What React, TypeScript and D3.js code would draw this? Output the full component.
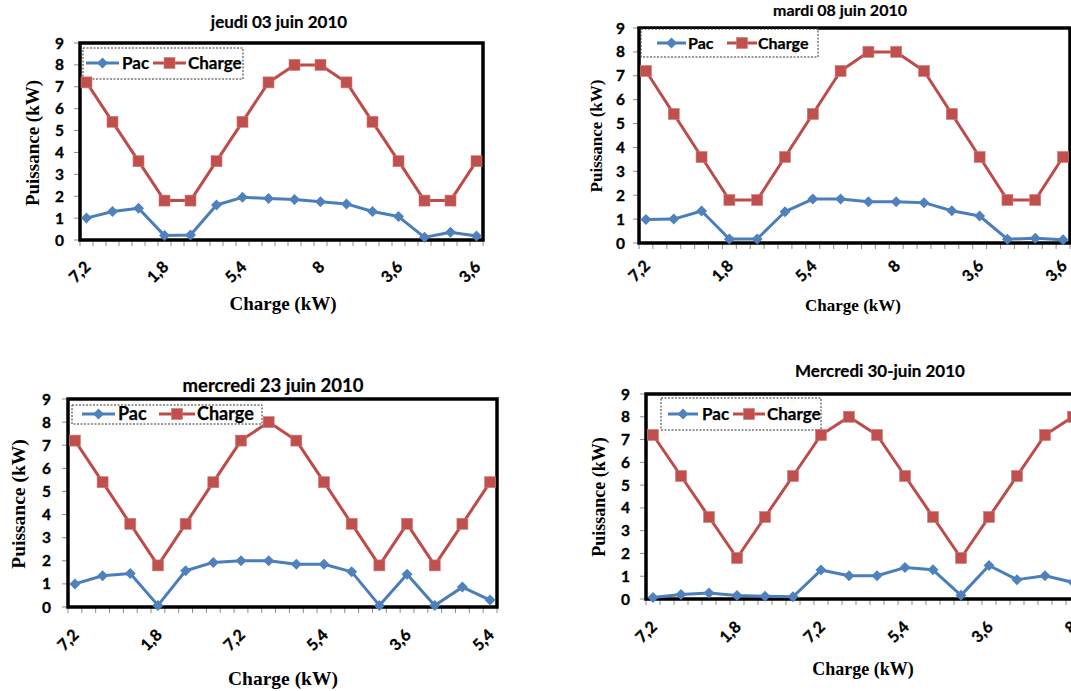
import React from "react";
import * as d3 from "d3";

// ---------- DATA ----------
const Y_TICKS = [0, 1, 2, 3, 4, 5, 6, 7, 8, 9];

const P1_TITLE = "jeudi 03 juin 2010";
const P1_CHARGE = [7.2, 5.4, 3.6, 1.8, 1.8, 3.6, 5.4, 7.2, 8, 8, 7.2, 5.4, 3.6, 1.8, 1.8, 3.6];
const P1_PAC = [1.0, 1.3, 1.45, 0.2, 0.23, 1.6, 1.95, 1.9, 1.85, 1.75, 1.65, 1.3, 1.07, 0.12, 0.35, 0.18];

const P2_TITLE = "mardi 08 juin 2010";
const P2_CHARGE = [7.2, 5.4, 3.6, 1.8, 1.8, 3.6, 5.4, 7.2, 8, 8, 7.2, 5.4, 3.6, 1.8, 1.8, 3.6];
const P2_PAC = [0.98, 1.0, 1.34, 0.17, 0.17, 1.31, 1.84, 1.84, 1.73, 1.73, 1.69, 1.35, 1.13, 0.16, 0.2, 0.14];

const P3_TITLE = "mercredi 23 juin 2010";
const P3_CHARGE = [7.2, 5.4, 3.6, 1.8, 3.6, 5.4, 7.2, 8, 7.2, 5.4, 3.6, 1.8, 3.6, 1.8, 3.6, 5.4];
const P3_PAC = [1.0, 1.35, 1.45, 0.07, 1.57, 1.93, 2.0, 2.0, 1.85, 1.85, 1.52, 0.07, 1.42, 0.07, 0.86, 0.3];

const P4_TITLE = "Mercredi 30-juin 2010";
const P4_CHARGE = [7.2, 5.4, 3.6, 1.8, 3.6, 5.4, 7.2, 8, 7.2, 5.4, 3.6, 1.8, 3.6, 5.4, 7.2, 8];
const P4_PAC = [0.07, 0.2, 0.26, 0.15, 0.12, 0.1, 1.27, 1.02, 1.02, 1.38, 1.28, 0.16, 1.47, 0.85, 1.02, 0.73];

const SERIES_NAMES = ["Pac", "Charge"];
const X_TITLE = "Charge (kW)";
const Y_TITLE = "Puissance (kW)";

// ---------- STYLE ----------
const BLUE = "#4A7EBB";
const BLUE_M = "#4F81BD";
const RED = "#BE4B48";
const RED_M = "#C0504D";
const SANS = "Lato, 'Open Sans', sans-serif";
const SERIF = "'Liberation Serif', 'Times New Roman', serif";

type Layout = {
  L: number; T: number; R: number; B: number;
  titleX: number; titleY: number; titleFs: number;
  yTitleX: number; yTitleY: number; xTitleX: number; xTitleY: number; axisTitleFs: number;
  tickLabelRight: number; xLabDy: number;
  leg: { x0: number; y0: number; x1: number; y1: number; cy: number; bl: number; br: number; pac: number; rl: number; rr: number; ch: number; fs: number };
};

const LAYOUTS: Layout[] = [
  {
    L: 80, T: 43, R: 483, B: 240, titleX: 279, titleY: 28, titleFs: 17,
    yTitleX: 32, yTitleY: 143, xTitleX: 283, xTitleY: 310, axisTitleFs: 19,
    tickLabelRight: 64, xLabDy: 28,
    leg: { x0: 83, y0: 48, x1: 243, y1: 79, cy: 63, bl: 86, br: 119, pac: 122, rl: 153, rr: 186, ch: 188, fs: 17 },
  },
  {
    L: 639, T: 28, R: 1070, B: 243, titleX: 840, titleY: 16, titleFs: 16,
    yTitleX: 596, yTitleY: 136, xTitleX: 853, xTitleY: 311, axisTitleFs: 17,
    tickLabelRight: 625, xLabDy: 24,
    leg: { x0: 641, y0: 29, x1: 818, y1: 57, cy: 43, bl: 657, br: 686, pac: 688, rl: 727, rr: 757, ch: 758, fs: 16 },
  },
  {
    L: 68, T: 399, R: 497, B: 607, titleX: 273, titleY: 392, titleFs: 18.5,
    yTitleX: 18, yTitleY: 504, xTitleX: 283, xTitleY: 685, axisTitleFs: 19.5,
    tickLabelRight: 51, xLabDy: 29,
    leg: { x0: 72, y0: 405, x1: 262, y1: 424, cy: 414, bl: 82, br: 115, pac: 118, rl: 159, rr: 195, ch: 197, fs: 18 },
  },
  {
    L: 646, T: 394, R: 1080, B: 599, titleX: 880, titleY: 377, titleFs: 17,
    yTitleX: 599, yTitleY: 497, xTitleX: 863, xTitleY: 675, axisTitleFs: 18,
    tickLabelRight: 630, xLabDy: 29,
    leg: { x0: 661, y0: 398, x1: 821, y1: 430, cy: 414, bl: 668, br: 698, pac: 702, rl: 733, rr: 765, ch: 767, fs: 17 },
  },
];

const PANELS = [
  { title: P1_TITLE, charge: P1_CHARGE, pac: P1_PAC },
  { title: P2_TITLE, charge: P2_CHARGE, pac: P2_PAC },
  { title: P3_TITLE, charge: P3_CHARGE, pac: P3_PAC },
  { title: P4_TITLE, charge: P4_CHARGE, pac: P4_PAC },
];

const fmt = (v: number) => String(v).replace(".", ",");

function Diamond({ x, y, s, fill }: { x: number; y: number; s: number; fill: string }) {
  return <path d={`M${x},${y - s}L${x + s},${y}L${x},${y + s}L${x - s},${y}Z`} fill={fill} />;
}
function Square({ x, y, s, fill }: { x: number; y: number; s: number; fill: string }) {
  return <rect x={x - s} y={y - s} width={2 * s} height={2 * s} fill={fill} stroke="#D07A78" strokeWidth={0.6} />;
}

function Panel({ idx, title, charge, pac }: { idx: number; title: string; charge: number[]; pac: number[] }) {
  const lay = LAYOUTS[idx];
  const n = charge.length;
  const x = d3.scaleLinear().domain([-0.25, n - 1 + 0.25]).range([lay.L, lay.R]);
  const y = d3.scaleLinear().domain([0, 9]).range([lay.B, lay.T]);
  const idxs = d3.range(n);
  const mk = (vals: number[]) =>
    d3.line<number>().x((_, i) => x(i)).y((v) => y(v))(vals) || "";
  const slotTicks = d3.range(2 * n).map((k) => -0.25 + 0.5 * k);
  const labelIdx = idxs.filter((i) => i % 3 === 0);
  const lg = lay.leg;
  const boldText = { fontFamily: SANS, fontWeight: 700, fill: "#000", stroke: "#000", strokeWidth: 0.35 } as const;
  return (
    <g>
      <text x={lay.titleX} y={lay.titleY} textAnchor="middle" fontSize={lay.titleFs} {...boldText} strokeWidth={0.2}>
        {title}
      </text>
      {/* y ticks */}
      {Y_TICKS.map((t) => (
        <g key={"y" + t}>
          <line x1={lay.L - 6} x2={lay.L} y1={y(t)} y2={y(t)} stroke="#8C8C8C" strokeWidth={1} />
          <text x={lay.tickLabelRight} y={y(t)} dy="0.36em" textAnchor="end" fontSize={15.5} {...boldText}>
            {t}
          </text>
        </g>
      ))}
      {/* x ticks */}
      {slotTicks.map((t, k) => (
        <line key={"xt" + k} x1={x(t)} x2={x(t)} y1={lay.B} y2={lay.B + 6} stroke="#8C8C8C" strokeWidth={1} />
      ))}
      {labelIdx.map((i) => (
        <text
          key={"xl" + i}
          transform={`translate(${x(i) + 5},${lay.B + lay.xLabDy}) rotate(-45)`}
          textAnchor="end"
          fontSize={16}
          {...boldText}
        >
          {fmt(charge[i])}
        </text>
      ))}
      {/* frame */}
      <rect x={lay.L} y={lay.T} width={lay.R - lay.L} height={lay.B - lay.T} fill="none" stroke="#000" strokeWidth={3.5} />
      {/* legend */}
      <rect x={lg.x0} y={lg.y0} width={lg.x1 - lg.x0} height={lg.y1 - lg.y0} fill="#fff" stroke="#333" strokeWidth={1} strokeDasharray="2,1.5" />
      <line x1={lg.bl} x2={lg.br} y1={lg.cy} y2={lg.cy} stroke={BLUE} strokeWidth={3} />
      <Diamond x={(lg.bl + lg.br) / 2} y={lg.cy} s={5.5} fill={BLUE_M} />
      <text x={lg.pac} y={lg.cy} dy="0.36em" fontSize={lg.fs} {...boldText} strokeWidth={0.25}>
        {SERIES_NAMES[0]}
      </text>
      <line x1={lg.rl} x2={lg.rr} y1={lg.cy} y2={lg.cy} stroke={RED} strokeWidth={3} />
      <Square x={(lg.rl + lg.rr) / 2} y={lg.cy} s={5.5} fill={RED_M} />
      <text x={lg.ch} y={lg.cy} dy="0.36em" fontSize={lg.fs} {...boldText} strokeWidth={0.25}>
        {SERIES_NAMES[1]}
      </text>
      {/* series */}
      <path d={mk(charge)} fill="none" stroke={RED} strokeWidth={3} strokeLinejoin="round" />
      {charge.map((v, i) => (
        <Square key={"c" + i} x={x(i)} y={y(v)} s={5.5} fill={RED_M} />
      ))}
      <path d={mk(pac)} fill="none" stroke={BLUE} strokeWidth={3} strokeLinejoin="round" />
      {pac.map((v, i) => (
        <Diamond key={"p" + i} x={x(i)} y={y(v)} s={5.5} fill={BLUE_M} />
      ))}
      {/* axis titles */}
      <text
        transform={`translate(${lay.yTitleX},${lay.yTitleY}) rotate(-90)`}
        textAnchor="middle"
        dy="0.35em"
        fontFamily={SERIF}
        fontWeight={700}
        fontSize={lay.axisTitleFs}
        fill="#000"
      >
        {Y_TITLE}
      </text>
      <text x={lay.xTitleX} y={lay.xTitleY} textAnchor="middle" fontFamily={SERIF} fontWeight={700} fontSize={lay.axisTitleFs} fill="#000">
        {X_TITLE}
      </text>
    </g>
  );
}

export default function App() {
  return (
    <svg width={1071} height={691} style={{ position: "absolute", left: 0, top: 0, background: "#fff" }}>
      <rect x={0} y={0} width={1071} height={691} fill="#fff" />
      {PANELS.map((p, i) => (
        <Panel key={i} idx={i} title={p.title} charge={p.charge} pac={p.pac} />
      ))}
    </svg>
  );
}
